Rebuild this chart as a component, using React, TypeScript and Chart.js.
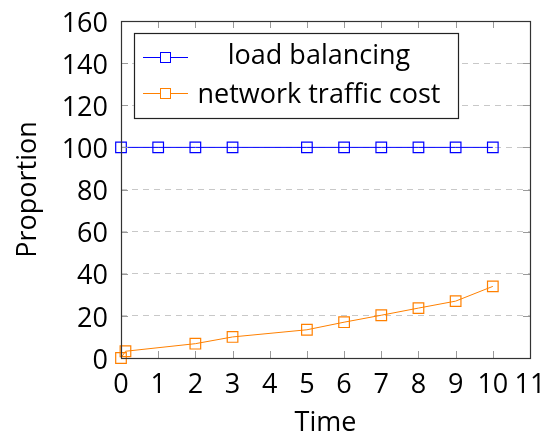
import React, { useEffect, useRef } from 'react';
import { Chart, registerables } from 'chart.js';
Chart.register(...registerables);

const seriesNames = ['load balancing', 'network traffic cost'];
const loadX = [0, 1, 2, 3, 5, 6, 7, 8, 9, 10];
const loadY = [100, 100, 100, 100, 100, 100, 100, 100, 100, 100];
const costX = [0, 0.12, 2, 3, 5, 6, 7, 8, 9, 10];
const costY = [0, 3.2, 6.8, 10, 13.4, 17, 20.3, 23.7, 27, 34];
const xTicks = [0, 1, 2, 3, 4, 5, 6, 7, 8, 9, 10, 11];
const yTicks = [0, 20, 40, 60, 80, 100, 120, 140, 160];
const xTitle = 'Time';
const yTitle = 'Proportion';

const FONT = 'Open Sans';
const FS = 27;
const BLUE = '#0000ff';
const ORANGE = '#ff8000';

const framePlugin = {
  id: 'frameAndLegend',
  afterDraw(chart: any) {
    const ctx = chart.ctx;
    const { left, right, top, bottom } = chart.chartArea;
    const xs = chart.scales.x;
    const ys = chart.scales.y;
    ctx.save();
    ctx.strokeStyle = '#9a9a9a';
    ctx.lineWidth = 1;
    ctx.beginPath();
    xTicks.forEach((v) => {
      const px = Math.round(xs.getPixelForValue(v)) + 0.5;
      ctx.moveTo(px, bottom);
      ctx.lineTo(px, bottom - 7);
      ctx.moveTo(px, top);
      ctx.lineTo(px, top + 7);
    });
    yTicks.forEach((v) => {
      const py = Math.round(ys.getPixelForValue(v)) + 0.5;
      ctx.moveTo(left, py);
      ctx.lineTo(left + 7, py);
      ctx.moveTo(right, py);
      ctx.lineTo(right - 7, py);
    });
    ctx.stroke();
    ctx.strokeStyle = '#333333';
    ctx.lineWidth = 1.2;
    ctx.strokeRect(Math.round(left) + 0.5, Math.round(top) + 0.5, Math.round(right - left), Math.round(bottom - top));

    // legend
    const bx = 134, by = 33, bw = 324, bh = 85;
    ctx.fillStyle = '#ffffff';
    ctx.fillRect(bx, by, bw, bh);
    ctx.strokeStyle = '#222222';
    ctx.lineWidth = 1.2;
    ctx.strokeRect(bx + 0.5, by + 0.5, bw, bh);
    const colors = [BLUE, ORANGE];
    const rows = [57, 93];
    const baselines = [64, 102.5];
    ctx.font = `${FS}px "${FONT}"`;
    ctx.textBaseline = 'alphabetic';
    ctx.textAlign = 'center';
    seriesNames.forEach((name, i) => {
      const cy = rows[i];
      ctx.strokeStyle = colors[i];
      ctx.lineWidth = 1;
      ctx.beginPath();
      ctx.moveTo(143, cy + 0.5);
      ctx.lineTo(188, cy + 0.5);
      ctx.stroke();
      ctx.fillStyle = '#ffffff';
      ctx.fillRect(160, cy - 5, 11, 11);
      ctx.strokeRect(160.5, cy - 4.5, 10, 10);
      ctx.fillStyle = '#000000';
      ctx.fillText(name, 319, baselines[i]);
    });
    ctx.restore();
  },
};

export default function App() {
  const ref = useRef<HTMLCanvasElement>(null);
  useEffect(() => {
    document.body.style.margin = '0';
    const canvas = ref.current!;
    const zeroPad = (s: any) => {
      s.paddingTop = 0;
      s.paddingBottom = 0;
      s.paddingLeft = 0;
      s.paddingRight = 0;
    };
    const chart = new Chart(canvas, {
      type: 'line',
      data: {
        datasets: [
          {
            label: seriesNames[0],
            data: loadX.map((x, i) => ({ x, y: loadY[i] })),
            borderColor: BLUE,
            backgroundColor: 'rgba(0,0,0,0)',
            borderWidth: 1,
            pointStyle: 'rect',
            pointRadius: 7.5,
            pointBorderWidth: 1.2,
            pointBorderColor: BLUE,
            pointBackgroundColor: 'rgba(0,0,0,0)',
            clip: false,
          },
          {
            label: seriesNames[1],
            data: costX.map((x, i) => ({ x, y: costY[i] })),
            borderColor: ORANGE,
            backgroundColor: 'rgba(0,0,0,0)',
            borderWidth: 1,
            pointStyle: 'rect',
            pointRadius: 7.5,
            pointBorderWidth: 1.2,
            pointBorderColor: ORANGE,
            pointBackgroundColor: 'rgba(0,0,0,0)',
            clip: false,
          },
        ],
      } as any,
      options: {
        animation: false,
        responsive: false,
        events: [],
        layout: { padding: { top: 21, right: 15, left: 0, bottom: 0 } },
        plugins: { legend: { display: false }, tooltip: { enabled: false } },
        scales: {
          x: {
            type: 'linear',
            min: 0,
            max: 11,
            afterFit: (s: any) => { s.height = 78; zeroPad(s); },
            afterBuildTicks: (s: any) => { s.ticks = xTicks.map((v) => ({ value: v })); },
            grid: { display: false, drawTicks: false },
            border: { display: false },
            ticks: { color: '#000', font: { family: FONT, size: FS }, padding: 11, autoSkip: false, maxRotation: 0 },
            title: { display: true, text: xTitle, color: '#000', font: { family: FONT, size: FS }, padding: { top: 0, bottom: -4 } },
          },
          y: {
            type: 'linear',
            min: 0,
            max: 160,
            afterFit: (s: any) => { s.width = 121; zeroPad(s); },
            afterBuildTicks: (s: any) => { s.ticks = yTicks.map((v) => ({ value: v })); },
            grid: { color: '#c8c8c8', drawTicks: false, lineWidth: 1 },
            border: { display: false, dash: [6, 5] },
            ticks: { color: '#000', font: { family: FONT, size: FS }, padding: 13, labelOffset: 3 },
            title: { display: true, text: yTitle, color: '#000', font: { family: FONT, size: FS }, padding: { top: 12, bottom: 0 } },
          },
        },
      } as any,
      plugins: [framePlugin],
    });
    return () => chart.destroy();
  }, []);
  return <canvas ref={ref} width={545} height={436} style={{ display: 'block' }} />;
}
